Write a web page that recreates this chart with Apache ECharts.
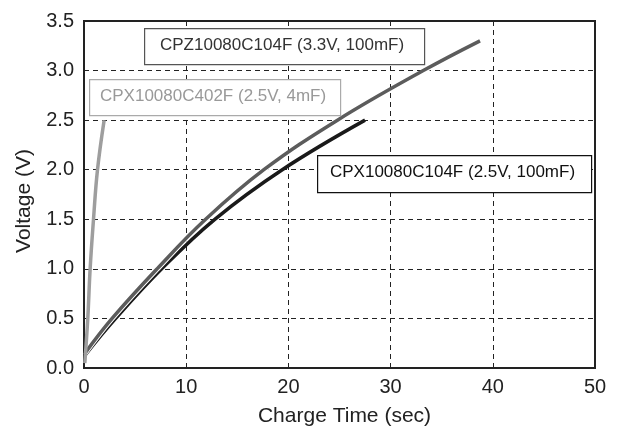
<!DOCTYPE html>
<html>
<head>
<meta charset="utf-8">
<script src="https://cdn.jsdelivr.net/npm/echarts@6/dist/echarts.min.js"></script>
<style>html,body{margin:0;padding:0;background:#fff}#c{width:619px;height:432px}</style>
</head>
<body>
<div id="c"></div>
<script>
// Data
var xTicks = [0, 10, 20, 30, 40, 50];
var yTicks = [0.0, 0.5, 1.0, 1.5, 2.0, 2.5, 3.0, 3.5];
var seriesNames = ['CPZ10080C104F (3.3V, 100mF)', 'CPX10080C402F (2.5V, 4mF)', 'CPX10080C104F (2.5V, 100mF)'];
var cpz104Time = [0.1, 2.75, 7.15, 11.9, 17.6, 24.8, 33.2, 38.75];
var cpz104Volt = [0.15, 0.5, 1.0, 1.5, 2.0, 2.5, 3.0, 3.3];
var cpx402Time = [0.08, 0.37, 0.6, 0.93, 1.32, 1.97];
var cpx402Volt = [0.05, 0.5, 1.0, 1.5, 2.0, 2.5];
var cpx104Time = [0.1, 3.1, 7.6, 12.8, 19.4, 27.5];
var cpx104Volt = [0.13, 0.5, 1.0, 1.5, 2.0, 2.5];

function pairs(xs, ys) { return xs.map(function (x, i) { return [x, ys[i]]; }); }

var font = '"Liberation Sans", Arial, Helvetica, sans-serif';
var chart = echarts.init(document.getElementById('c'), null, { renderer: 'canvas' });

var option = {
  animation: false,
  backgroundColor: '#fff',
  grid: { left: 84, right: 24, top: 21, bottom: 63, show: true, borderColor: '#222', borderWidth: 2, backgroundColor: 'transparent' },
  xAxis: {
    type: 'value', min: xTicks[0], max: xTicks[xTicks.length - 1], interval: 10,
    name: 'Charge Time (sec)', nameLocation: 'middle', nameGap: 38,
    nameTextStyle: { fontFamily: font, fontSize: 21, color: '#222', padding: [0, 0, 0, 10] },
    axisLine: { show: true, lineStyle: { color: '#222', width: 2 } },
    axisTick: { show: false },
    axisLabel: { fontFamily: font, fontSize: 20, color: '#222', margin: 9 },
    splitLine: { show: true, lineStyle: { color: '#222', type: [5, 4], width: 1 } }
  },
  yAxis: {
    type: 'value', min: yTicks[0], max: yTicks[yTicks.length - 1], interval: 0.5,
    name: 'Voltage (V)', nameLocation: 'middle', nameGap: 49,
    nameTextStyle: { fontFamily: font, fontSize: 21, color: '#222', padding: [0, 13, 0, 0] },
    axisLine: { show: true, lineStyle: { color: '#222', width: 2 } },
    axisTick: { show: false },
    axisLabel: { fontFamily: font, fontSize: 20, color: '#222', margin: 10, formatter: function (v) { return v.toFixed(1); } },
    splitLine: { show: true, lineStyle: { color: '#222', type: [5, 4], width: 1 } }
  },
  series: [
    { name: seriesNames[2], type: 'line', data: pairs(cpx104Time, cpx104Volt), smooth: 0.4, showSymbol: false,
      lineStyle: { color: '#1a1a1a', width: 3.5 }, z: 3 },
    { name: seriesNames[0], type: 'line', data: pairs(cpz104Time, cpz104Volt), smooth: 0.4, showSymbol: false,
      lineStyle: { color: '#5c5c5c', width: 3.5, shadowColor: '#fff', shadowBlur: 0, shadowOffsetY: 1.5 }, z: 4 },
    { name: seriesNames[1], type: 'line', data: pairs(cpx402Time, cpx402Volt), smooth: 0.4, showSymbol: false,
      lineStyle: { color: '#9e9e9e', width: 3.5 }, z: 5 }
  ],
  graphic: [
    { type: 'rect', left: 144, top: 28, shape: { width: 280, height: 36 }, style: { fill: '#fff', stroke: '#555', lineWidth: 1.2 }, z: 10 },
    { type: 'text', left: 160, top: 37, style: { text: seriesNames[0], fill: '#333', font: '17px ' + font }, z: 11 },
    { type: 'rect', left: 89, top: 79, shape: { width: 251, height: 36 }, style: { fill: '#fff', stroke: '#aaa', lineWidth: 1.2 }, z: 10 },
    { type: 'text', left: 100, top: 88, style: { text: seriesNames[1], fill: '#999', font: '17px ' + font }, z: 11 },
    { type: 'rect', left: 317, top: 155, shape: { width: 274, height: 37 }, style: { fill: '#fff', stroke: '#111', lineWidth: 1.2 }, z: 10 },
    { type: 'text', left: 330, top: 164, style: { text: seriesNames[2], fill: '#111', font: '17px ' + font }, z: 11 }
  ]
};
chart.setOption(option);
</script>
</body>
</html>
